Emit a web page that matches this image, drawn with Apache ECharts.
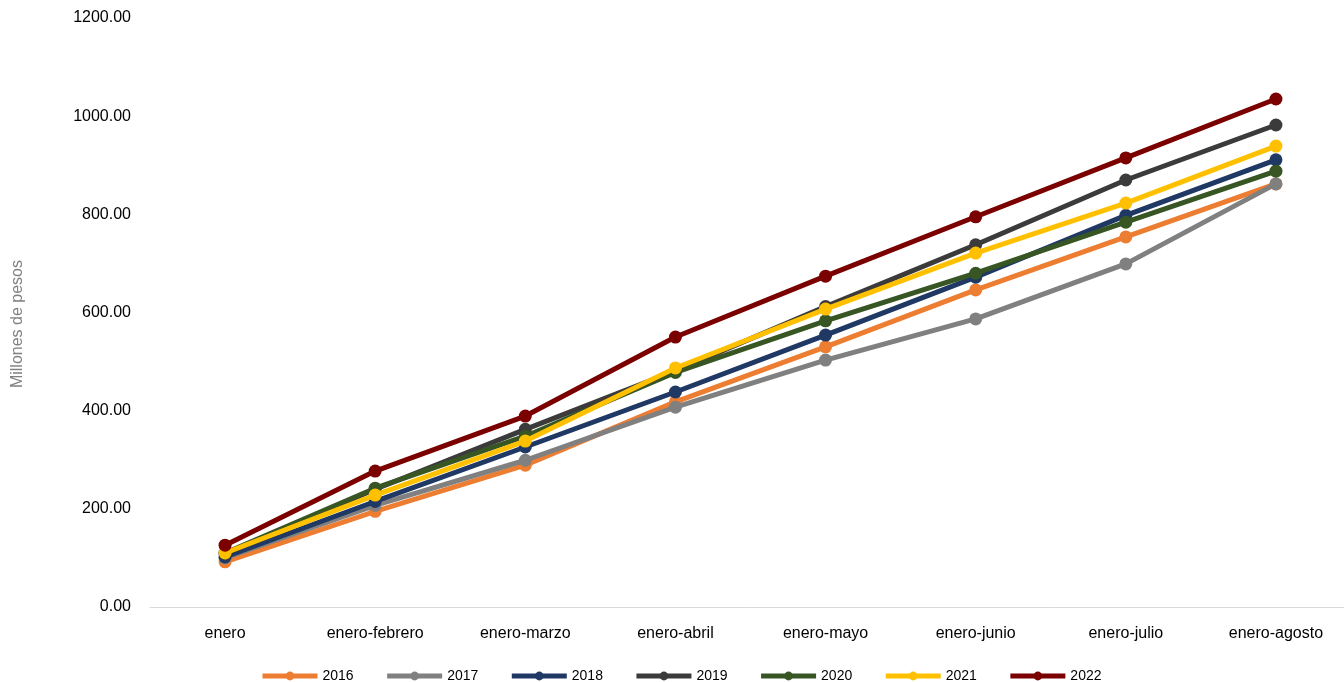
<!DOCTYPE html>
<html><head><meta charset="utf-8">
<script src="https://cdn.jsdelivr.net/npm/echarts@6/dist/echarts.min.js"></script>
<style>html,body{margin:0;padding:0;background:#fff;overflow:hidden}#c{width:1351px;height:682px}</style>
</head><body><div id="c"></div>
<script>
const categories = ['enero','enero-febrero','enero-marzo','enero-abril','enero-mayo','enero-junio','enero-julio','enero-agosto'];
const years = ['2016','2017','2018','2019','2020','2021','2022'];
const s2016 = [92, 195, 289, 418, 530, 646, 754, 862];
const s2017 = [100, 207, 299, 407, 503, 587, 699, 862];
const s2018 = [102, 215, 326, 438, 554, 672, 798, 911];
const s2019 = [108, 240, 362, 481, 612, 738, 870, 982];
const s2020 = [110, 242, 348, 478, 583, 680, 784, 888];
const s2021 = [110, 228, 338, 487, 607, 721, 823, 939];
const s2022 = [126, 277, 389, 550, 674, 795, 915, 1035];
const yTicks = [0, 200, 400, 600, 800, 1000, 1200];
const colors = ['#ED7D31','#808080','#1F3864','#3B3B3B','#375623','#FFC000','#7B0000'];
const seriesData = [s2016, s2017, s2018, s2019, s2020, s2021, s2022];

const chart = echarts.init(document.getElementById('c'));
chart.setOption({
  animation: false,
  textStyle: { fontFamily: 'Liberation Sans, Arial, sans-serif' },
  grid: { left: 150, right: 0, top: 18, bottom: 75, containLabel: false },
  legend: {
    top: 664, left: 255,
    itemWidth: 55, itemHeight: 11, itemGap: 31,
    lineStyle: { width: 5 },
    textStyle: { fontSize: 14, color: '#000', fontFamily: 'Liberation Sans, Arial, sans-serif' },
    data: years
  },
  xAxis: {
    type: 'category', data: categories, boundaryGap: true,
    axisLine: { show: true, lineStyle: { color: '#D9D9D9', width: 1 } },
    axisTick: { show: false },
    axisLabel: { fontSize: 16, color: '#000', margin: 19, interval: 0 }
  },
  yAxis: {
    type: 'value', min: yTicks[0], max: yTicks[yTicks.length-1], interval: 200,
    axisLine: { show: false }, axisTick: { show: false },
    splitLine: { show: false },
    axisLabel: { fontSize: 16, color: '#000', margin: 19, formatter: v => v.toFixed(2) }
  },
  graphic: [{
    type: 'text', left: 10, top: 260, rotation: Math.PI/2,
    style: { text: 'Millones de pesos', fontSize: 16, fill: '#808080', fontFamily: 'Liberation Sans, Arial, sans-serif' }
  }],
  series: years.map((y, i) => ({
    name: y, type: 'line', data: seriesData[i],
    color: colors[i],
    symbol: 'circle', symbolSize: 13,
    lineStyle: { width: 5, color: colors[i] },
    itemStyle: { color: colors[i] },
    z: 2 + i
  }))
});
</script></body></html>
